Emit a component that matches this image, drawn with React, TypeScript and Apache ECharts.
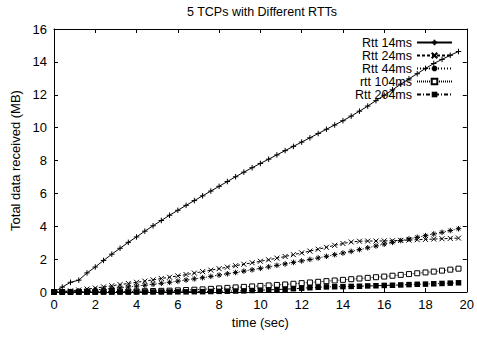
import React, { useEffect, useRef } from "react";
import * as echarts from "echarts";

const TITLE = "5 TCPs with Different RTTs";
const X_NAME = "time (sec)";
const Y_NAME = "Total data received (MB)";
const SERIES_NAMES = ["Rtt 14ms", "Rtt 24ms", "Rtt 44ms", "rtt 104ms", "Rtt 204ms"];

const TIME = [0, 0.4, 0.8, 1.2, 1.6, 2, 2.4, 2.8, 3.2, 3.6, 4, 4.4, 4.8, 5.2, 5.6, 6, 6.4, 6.8, 7.2, 7.6, 8, 8.4, 8.8, 9.2, 9.6, 10, 10.4, 10.8, 11.2, 11.6, 12, 12.4, 12.8, 13.2, 13.6, 14, 14.4, 14.8, 15.2, 15.6, 16, 16.4, 16.8, 17.2, 17.6, 18, 18.4, 18.8, 19.2, 19.6];

const RTT14 = [0, 0.3, 0.59, 0.72, 1.16, 1.52, 1.92, 2.3, 2.66, 3.02, 3.35, 3.7, 4.03, 4.35, 4.67, 4.97, 5.27, 5.56, 5.85, 6.14, 6.43, 6.72, 7.01, 7.29, 7.56, 7.82, 8.08, 8.34, 8.6, 8.86, 9.12, 9.38, 9.64, 9.9, 10.16, 10.42, 10.7, 11.0, 11.31, 11.64, 11.97, 12.3, 12.64, 12.97, 13.28, 13.6, 13.9, 14.15, 14.4, 14.63];
const RTT24 = [0, 0.03, 0.07, 0.12, 0.18, 0.24, 0.31, 0.38, 0.45, 0.52, 0.59, 0.66, 0.74, 0.82, 0.9, 0.98, 1.06, 1.15, 1.24, 1.33, 1.42, 1.51, 1.6, 1.69, 1.78, 1.87, 1.96, 2.06, 2.16, 2.27, 2.38, 2.49, 2.6, 2.72, 2.84, 2.95, 3.04, 3.09, 3.1, 3.1, 3.11, 3.12, 3.14, 3.16, 3.18, 3.2, 3.22, 3.24, 3.26, 3.28];
const RTT44 = [0, 0.01, 0.03, 0.06, 0.09, 0.13, 0.17, 0.21, 0.26, 0.31, 0.36, 0.41, 0.47, 0.53, 0.59, 0.66, 0.73, 0.8, 0.87, 0.95, 1.03, 1.11, 1.19, 1.27, 1.35, 1.44, 1.53, 1.62, 1.71, 1.8, 1.89, 1.98, 2.07, 2.17, 2.27, 2.37, 2.47, 2.58, 2.69, 2.8, 2.91, 3.02, 3.13, 3.23, 3.33, 3.43, 3.53, 3.63, 3.74, 3.85];
const RTT104 = [0, 0, 0, 0.01, 0.01, 0.01, 0.02, 0.02, 0.03, 0.03, 0.04, 0.05, 0.06, 0.07, 0.08, 0.1, 0.12, 0.14, 0.16, 0.19, 0.22, 0.25, 0.28, 0.31, 0.34, 0.37, 0.4, 0.43, 0.46, 0.5, 0.54, 0.58, 0.62, 0.66, 0.7, 0.74, 0.78, 0.82, 0.86, 0.9, 0.94, 0.99, 1.04, 1.09, 1.14, 1.19, 1.24, 1.3, 1.36, 1.42];
const RTT204 = [0, 0, 0, 0, 0, 0, 0, 0, 0, 0, 0, 0, 0, 0, 0, 0.01, 0.01, 0.02, 0.02, 0.03, 0.04, 0.05, 0.06, 0.07, 0.09, 0.11, 0.13, 0.15, 0.17, 0.2, 0.23, 0.26, 0.29, 0.31, 0.32, 0.33, 0.34, 0.35, 0.37, 0.38, 0.4, 0.41, 0.43, 0.45, 0.47, 0.48, 0.5, 0.52, 0.54, 0.56];

const FONT = "'Liberation Sans', Arial, Helvetica, sans-serif";

const PLUS = "path://M0 5 L10 5 M5 0 L5 10";
const CROSS = "path://M0 0 L10 10 M10 0 L0 10";
const STAR = "path://M0 5 L10 5 M5 0 L5 10 M1.5 1.5 L8.5 8.5 M8.5 1.5 L1.5 8.5";

function pairs(ys: number[]) {
  return TIME.map((t, i) => [t, ys[i]]);
}

export default function App() {
  const ref = useRef<HTMLDivElement>(null);
  useEffect(() => {
    document.body.style.margin = "0";
    if (!ref.current) return;
    const chart = echarts.init(ref.current, null, { renderer: "svg" });

    const axisCommon = {
      type: "value" as const,
      axisLine: { show: true, onZero: false, lineStyle: { color: "#000", width: 1 } },
      axisTick: { show: true, inside: true, length: 4, lineStyle: { color: "#000", width: 1 } },
      splitLine: { show: false },
    };
    const labelStyle = { color: "#000", fontSize: 13, fontFamily: FONT };

    const mk = (name: string, ys: number[], symbol: string, size: number, dash: any, item: any) => ({
      name,
      type: "line",
      data: pairs(ys),
      symbol,
      symbolSize: size,
      showAllSymbol: true,
      lineStyle: { color: "#000", width: 1, type: dash },
      itemStyle: item,
      emphasis: { disabled: true },
    });

    chart.setOption({
      animation: false,
      backgroundColor: "#fff",
      textStyle: { fontFamily: FONT },
      graphic: [
        {
          type: "text",
          x: 262,
          y: 5,
          style: { text: TITLE, textAlign: "center", fill: "#000", font: `12.5px ${FONT}` },
        },
      ],
      grid: { left: 54, right: 7, top: 29, bottom: 45, containLabel: false },
      legend: {
        orient: "vertical",
        right: 24,
        top: 36,
        padding: 0,
        align: "right",
        itemWidth: 35,
        itemHeight: 7,
        itemGap: 0,
        selectedMode: false,
        textStyle: { color: "#000", fontSize: 12.5, fontFamily: FONT, lineHeight: 12, padding: [0, 0, 0, 0] },
        data: SERIES_NAMES,
      },
      xAxis: [
        {
          ...axisCommon,
          position: "bottom",
          min: 0,
          max: 20,
          interval: 2,
          name: X_NAME,
          nameLocation: "middle",
          nameGap: 21,
          nameTextStyle: labelStyle,
          axisLabel: { ...labelStyle, margin: 6 },
        },
        {
          ...axisCommon,
          position: "top",
          min: 0,
          max: 20,
          interval: 2,
          axisLabel: { show: false },
        },
      ],
      yAxis: [
        {
          ...axisCommon,
          position: "left",
          min: 0,
          max: 16,
          interval: 2,
          name: Y_NAME,
          nameLocation: "middle",
          nameGap: 28,
          nameTextStyle: labelStyle,
          axisLabel: { ...labelStyle, margin: 7 },
        },
        {
          ...axisCommon,
          position: "right",
          min: 0,
          max: 16,
          interval: 2,
          axisLabel: { show: false },
        },
      ],
      series: [
        mk(SERIES_NAMES[0], RTT14, PLUS, 5.5, "solid", { color: "#000", borderColor: "#000", borderWidth: 1 }),
        mk(SERIES_NAMES[1], RTT24, CROSS, 5, [3, 2], { color: "#000", borderColor: "#000", borderWidth: 1 }),
        mk(SERIES_NAMES[2], RTT44, STAR, 5.5, [1, 2], { color: "#000", borderColor: "#000", borderWidth: 1 }),
        mk(SERIES_NAMES[3], RTT104, "rect", 5, [1, 1], { color: "#fff", borderColor: "#000", borderWidth: 1 }),
        mk(SERIES_NAMES[4], RTT204, "rect", 5.5, [4, 2, 1, 2], { color: "#000", borderColor: "#000", borderWidth: 0 }),
      ],
    });
    return () => chart.dispose();
  }, []);
  return <div ref={ref} style={{ width: 477, height: 337 }} />;
}
